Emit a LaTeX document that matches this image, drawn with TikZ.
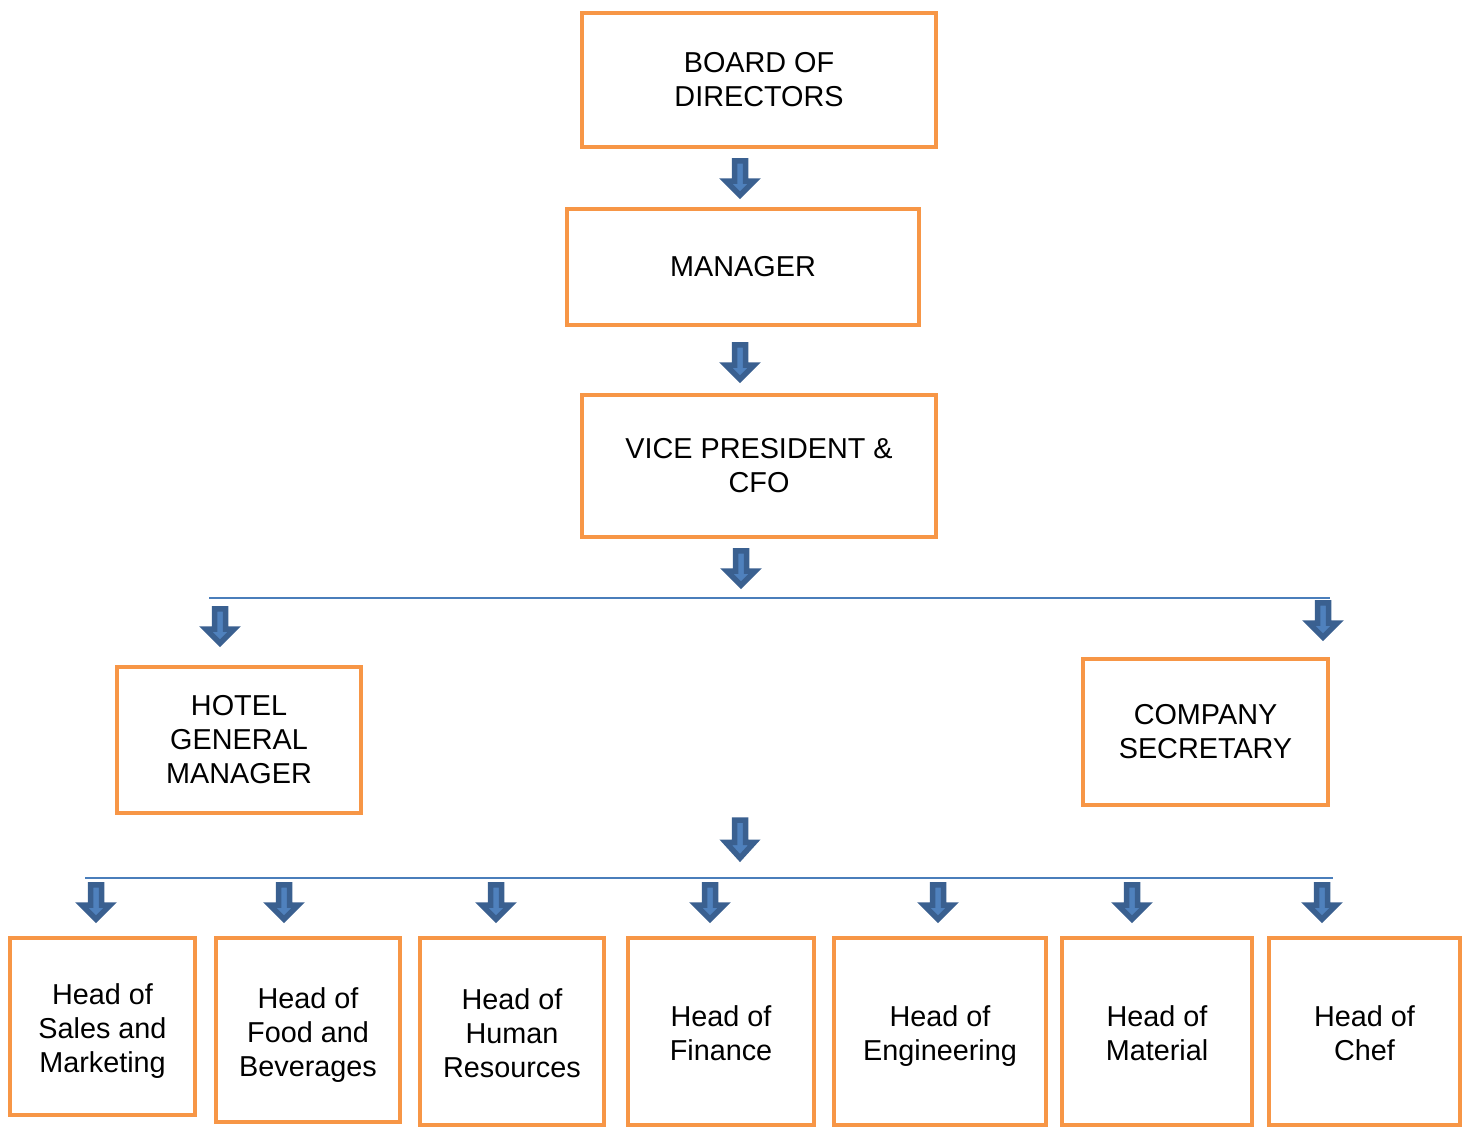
\documentclass[tikz,border=0pt]{standalone}
\usepackage{fontspec}
\setmainfont{Liberation Sans}
\usepackage{xcolor}
\usetikzlibrary{positioning}

\definecolor{boxorange}{HTML}{F79646}
\definecolor{arrowdark}{HTML}{3A6090}
\definecolor{arrowlight}{HTML}{4F81BD}
\definecolor{busblue}{HTML}{4A7EBB}
\newcommand{\orgfont}{\fontsize{28.8}{34}\selectfont}
\newcommand{\hstrut}{\rule{0pt}{30pt}}
\newcommand{\lstrut}{\rule{0pt}{25pt}}

\tikzset{
  orgbox/.style={draw=boxorange, line width=4pt, align=center, font=\orgfont, inner sep=0pt},
  busline/.style={draw=busblue, line width=2pt},
  blkarrow/.pic={
    \filldraw[fill=arrowlight, draw=arrowdark, line width=5.5pt, miter limit=10]
      (-5.5,2.8) -- (5.5,2.8) -- (5.5,23) -- (14.3,23) -- (0,37.3) -- (-14.3,23) -- (-5.5,23) -- cycle;
  }
}

\begin{document}
\begin{tikzpicture}[x=1pt, y=-1pt, on grid]
        \useasboundingbox (0,0) rectangle (1472,1127);

        % top chain
        \node[orgbox, minimum width=354pt, minimum height=134pt] (board) at (759,80) {BOARD OF\\DIRECTORS};
        \node[orgbox, minimum width=352pt, minimum height=116pt] (mgr) [below=187pt of board, xshift=-16pt] {MANAGER};
        \node[orgbox, minimum width=354pt, minimum height=142pt] (vp) [below=199pt of mgr, xshift=16pt] {VICE PRESIDENT \&\\CFO};

        % second level
        \node[orgbox, minimum width=244pt, minimum height=146pt] (hgm) at (239,740) {HOTEL\\GENERAL\\MANAGER};
        \node[orgbox, minimum width=245pt, minimum height=146pt] (sec) [right=966.5pt of hgm, yshift=8pt] {COMPANY\\SECRETARY};

        % heads
        \node[orgbox, minimum width=185pt, minimum height=177pt] (sales) at (102.5,1026.5) {\hstrut Head of\\Sales and\\Marketing};
        \node[orgbox, minimum width=184pt, minimum height=184pt] (food) at (308,1030) {\hstrut Head of\\Food and\\Beverages};
        \node[orgbox, minimum width=184pt, minimum height=187pt] (hr) at (512,1031.5) {\lstrut Head of\\Human\\Resources};
        \node[orgbox, minimum width=186pt, minimum height=187pt] (fin) at (721,1031.5) {\lstrut Head of\\Finance};
        \node[orgbox, minimum width=212pt, minimum height=187pt] (eng) at (940,1031.5) {\hstrut Head of\\Engineering};
        \node[orgbox, minimum width=190pt, minimum height=187pt] (mat) at (1157,1031.5) {\lstrut Head of\\Material};
        \node[orgbox, minimum width=191pt, minimum height=187pt] (chef) at (1364.5,1031.5) {\lstrut Head of\\Chef};

        % bus lines
        \coordinate (busa-w) at (209,598);
        \coordinate (busa-e) at (1330,598);
        \coordinate (busb-w) at (85,878);
        \coordinate (busb-e) at (1333,878);
        \draw[busline] (busa-w) -- (busa-e);
        \draw[busline] (busb-w) -- (busb-e);

        % block arrows
        \pic (arr-board) at (740,158) {blkarrow};
        \pic (arr-mgr) at (740,342) {blkarrow};
        \pic (arr-vp) at (741,548) {blkarrow};
        \pic (arr-hgm) at (220,606) {blkarrow};
        \pic (arr-sec) at (1323,600) {blkarrow};
        \pic[yscale=1.1] (arr-mid) at (740,817) {blkarrow};
        \foreach \ax/\nm in {96/sales, 284/food, 496/hr, 710/fin, 938/eng, 1132/mat, 1322/chef}
            \pic (arr-\nm) at (\ax,882) {blkarrow};

    \end{tikzpicture}
\end{document}
